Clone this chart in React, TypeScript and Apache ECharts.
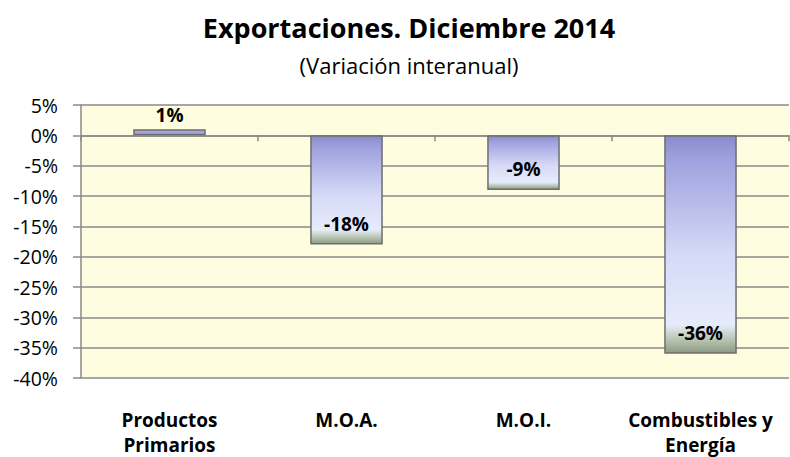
import React, { useEffect, useRef } from "react";
import * as echarts from "echarts";

const categories = ["Productos\nPrimarios", "M.O.A.", "M.O.I.", "Combustibles y\nEnergía"];
const values = [1, -18, -9, -36];
const yTicks = { min: -40, max: 5, interval: 5 };
const titleText = "Exportaciones. Diciembre 2014";
const subtitleText = "(Variación interanual)";

const FONT = "'Open Sans', sans-serif";

export default function App() {
  const ref = useRef<HTMLDivElement>(null);
  useEffect(() => {
    if (!ref.current) return;
    const chart = echarts.init(ref.current, null, { renderer: "svg" });
    const barGradient = new echarts.graphic.LinearGradient(0, 0, 0, 1, [
      { offset: 0, color: "#8a8dce" },
      { offset: 0.12, color: "#a0a3de" },
      { offset: 0.55, color: "#d6daf7" },
      { offset: 0.87, color: "#e6ecfb" },
      { offset: 0.94, color: "#b7c4b0" },
      { offset: 1, color: "#8c9a84" },
    ]);
    chart.setOption({
      animation: false,
      backgroundColor: "#ffffff",
      textStyle: { fontFamily: FONT },
      title: {
        text: titleText,
        subtext: subtitleText,
        left: 404,
        textAlign: "center",
        top: 9,
        itemGap: 13,
        textStyle: { fontFamily: FONT, fontSize: 27, fontWeight: "bold", color: "#000" },
        subtextStyle: { fontFamily: FONT, fontSize: 22, color: "#000" },
      },
      grid: { left: 81, right: 1, top: 105, bottom: 74, backgroundColor: "#fffde0", show: true, borderWidth: 0 },
      xAxis: [
        {
          type: "category",
          data: categories,
          position: "bottom",
          axisLine: { show: false, onZero: false },
          axisTick: { show: false },
          axisLabel: {
            interval: 0,
            margin: 29,
            fontFamily: FONT,
            fontSize: 19,
            fontWeight: "bold",
            color: "#000",
            lineHeight: 25,
          },
        },
        {
          type: "category",
          data: categories,
          position: "bottom",
          axisLine: { show: true, onZero: true, lineStyle: { color: "#8a8a8a", width: 1.5 } },
          axisTick: { show: true, length: 6, lineStyle: { color: "#8a8a8a", width: 1.5 } },
          axisLabel: { show: false },
        },
      ],
      yAxis: {
        type: "value",
        min: yTicks.min,
        max: yTicks.max,
        interval: yTicks.interval,
        axisLine: { show: true, lineStyle: { color: "#8a8a8a", width: 1.5 } },
        axisTick: { show: true, length: 8, lineStyle: { color: "#8a8a8a", width: 1.5 } },
        splitLine: { show: true, lineStyle: { color: "#8a8a8a", width: 1.5 } },
        axisLabel: {
          formatter: (v: number) => `${v}%`,
          fontFamily: FONT,
          fontSize: 19.5,
          color: "#000",
          margin: 23,
        },
      },
      series: [
        {
          type: "bar",
          xAxisIndex: 0,
          barWidth: "41%",
          data: values.map((v) => ({
            value: v,
            itemStyle: v >= 0 ? { color: "#a4a7df" } : undefined,
            label: {
              show: true,
              position: v >= 0 ? "top" : "insideBottom",
              distance: v >= 0 ? 5 : 11,
            },
          })),
          itemStyle: {
            color: barGradient,
            borderColor: "#6e6e6e",
            borderWidth: 1.5,
          },
          label: {
            formatter: (p: any) => `${p.value}%`,
            fontFamily: FONT,
            fontSize: 19,
            fontWeight: "bold",
            color: "#000",
          },
        },
      ],
    });
    return () => chart.dispose();
  }, []);
  return (
    <div
      ref={ref}
      style={{ position: "fixed", left: 0, top: 0, width: 790, height: 457 }}
    />
  );
}
